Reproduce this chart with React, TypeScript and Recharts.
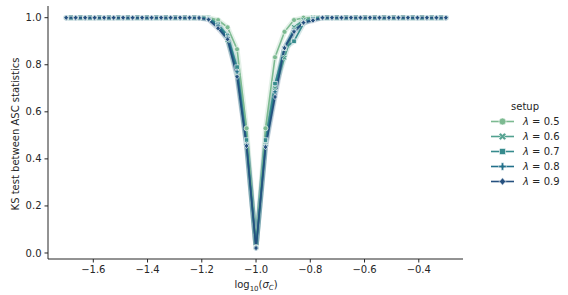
import React from "react";
import { LineChart, Line, XAxis, YAxis, Label } from "recharts";

const xValues = [
  -1.7, -1.665, -1.63, -1.595, -1.56, -1.525, -1.49, -1.455, -1.42, -1.385,
  -1.35, -1.315, -1.28, -1.245, -1.21, -1.175, -1.14, -1.105, -1.07, -1.035,
  -1.0, -0.965, -0.93, -0.895, -0.86, -0.825, -0.79, -0.755, -0.72, -0.685,
  -0.65, -0.615, -0.58, -0.545, -0.51, -0.475, -0.44, -0.405, -0.37, -0.335, -0.3,
];

const lambda05 = [
  1, 1, 1, 1, 1, 1, 1, 1, 1, 1,
  1, 1, 1, 1, 1, 1.0, 0.99, 0.959, 0.866, 0.53,
  0.025, 0.53, 0.832, 0.94, 0.99, 1.0, 1, 1, 1, 1,
  1, 1, 1, 1, 1, 1, 1, 1, 1, 1, 1,
];
const lambda06 = [
  1, 1, 1, 1, 1, 1, 1, 1, 1, 1,
  1, 1, 1, 1, 1, 1.0, 0.975, 0.905, 0.76, 0.47,
  0.022, 0.47, 0.7, 0.83, 0.96, 0.99, 1.0, 1, 1, 1,
  1, 1, 1, 1, 1, 1, 1, 1, 1, 1, 1,
];
const lambda07 = [
  1, 1, 1, 1, 1, 1, 1, 1, 1, 1,
  1, 1, 1, 1, 1, 0.996, 0.972, 0.925, 0.79, 0.48,
  0.022, 0.48, 0.72, 0.87, 0.9, 0.975, 0.995, 1, 1, 1,
  1, 1, 1, 1, 1, 1, 1, 1, 1, 1, 1,
];
const lambda08 = [
  1, 1, 1, 1, 1, 1, 1, 1, 1, 1,
  1, 1, 1, 1, 1, 0.994, 0.965, 0.915, 0.77, 0.46,
  0.021, 0.455, 0.685, 0.875, 0.945, 0.98, 0.993, 1, 1, 1,
  1, 1, 1, 1, 1, 1, 1, 1, 1, 1, 1,
];
const lambda09 = [
  1, 1, 1, 1, 1, 1, 1, 1, 1, 1,
  1, 1, 1, 1, 0.999, 0.992, 0.955, 0.908, 0.749, 0.455,
  0.021, 0.45, 0.663, 0.871, 0.94, 0.979, 0.988, 1.0, 1, 1,
  1, 1, 1, 1, 1, 1, 1, 1, 1, 1, 1,
];

const seriesNames = ["λ = 0.5", "λ = 0.6", "λ = 0.7", "λ = 0.8", "λ = 0.9"];
const seriesValues = [lambda05, lambda06, lambda07, lambda08, lambda09];
const seriesLambda = ["0.5", "0.6", "0.7", "0.8", "0.9"];
const seriesColors = ["#7cba91", "#52a18f", "#368b8d", "#22708a", "#25507f"];
const seriesShapes = ["circle", "x", "square", "plus", "diamond"];

const xTicks = [-1.6, -1.4, -1.2, -1.0, -0.8, -0.6, -0.4];
const yTicks = [0, 0.2, 0.4, 0.6, 0.8, 1.0];

const data = xValues.map((x, i) => {
  const row: Record<string, number> = { x };
  seriesValues.forEach((s, k) => {
    row["s" + k] = s[i];
  });
  return row;
});

const INK = "#262626";
const FONT = "DejaVu Sans, sans-serif";

function Marker({ shape, cx, cy, color, s = 1 }: { shape: string; cx: number; cy: number; color: string; s?: number }) {
  const sw = 0.6;
  if (shape === "circle") return <circle cx={cx} cy={cy} r={2.5 * s} fill={color} stroke="#fff" strokeWidth={sw} />;
  if (shape === "square") {
    const h = 2.2 * s;
    return <rect x={cx - h} y={cy - h} width={2 * h} height={2 * h} fill={color} stroke="#fff" strokeWidth={sw} />;
  }
  if (shape === "diamond") {
    const h = 2.7 * s;
    return (
      <polygon
        points={`${cx},${cy - h} ${cx + h * 0.85},${cy} ${cx},${cy + h} ${cx - h * 0.85},${cy}`}
        fill={color}
        stroke="#fff"
        strokeWidth={sw}
      />
    );
  }
  if (shape === "plus") {
    const a = 0.9 * s, b = 2.7 * s;
    const pts = [
      [-a, -b], [a, -b], [a, -a], [b, -a], [b, a], [a, a], [a, b], [-a, b], [-a, a], [-b, a], [-b, -a], [-a, -a],
    ].map(([px, py]) => `${cx + px},${cy + py}`).join(" ");
    return <polygon points={pts} fill={color} stroke="#fff" strokeWidth={sw} />;
  }
  // filled X
  const a = 0.9 * s, b = 2.8 * s;
  const base = [
    [-a, -b], [a, -b], [a, -a], [b, -a], [b, a], [a, a], [a, b], [-a, b], [-a, a], [-b, a], [-b, -a], [-a, -a],
  ];
  const c = Math.SQRT1_2;
  const pts = base
    .map(([px, py]) => [px * c - py * c, px * c + py * c])
    .map(([px, py]) => `${cx + px},${cy + py}`)
    .join(" ");
  return <polygon points={pts} fill={color} stroke="#fff" strokeWidth={sw} />;
}

const makeDot = (shape: string, color: string) => (props: any) => {
  const { cx, cy, index } = props;
  if (cx == null || cy == null) return <g key={`d${index}`} />;
  return (
    <g key={`d${shape}${index}`}>
      <Marker shape={shape} cx={cx} cy={cy} color={color} />
    </g>
  );
};

const fmt = (v: number) => v.toFixed(1).replace("-", "\u2212");

function Legend() {
  return (
    <div
      style={{
        position: "absolute",
        left: 486,
        top: 99,
        fontFamily: FONT,
        fontSize: 10,
        color: INK,
        lineHeight: "15px",
      }}
    >
      <div style={{ textAlign: "center", width: 78, marginLeft: 0 }}>setup</div>
      {seriesNames.map((n, k) => (
        <div key={n} style={{ display: "flex", alignItems: "center", height: 15 }}>
          <svg width={34} height={15} style={{ display: "block" }}>
            <line x1={5} x2={28} y1={7.5} y2={7.5} stroke={seriesColors[k]} strokeWidth={1.6} />
            <Marker shape={seriesShapes[k]} cx={16.5} cy={7.5} color={seriesColors[k]} s={1.4} />
          </svg>
          <span style={{ marginLeft: 3 }}>
            <i>λ</i> = {seriesLambda[k]}
          </span>
        </div>
      ))}
    </div>
  );
}

export default function App() {
  return (
    <div style={{ position: "relative", width: 568, height: 295, background: "#fff" }}>
      <style>{`body{margin:0}`}</style>
      <LineChart width={568} height={295} data={data} margin={{ top: 6, right: 105, bottom: 0, left: 0 }}>
        <XAxis
          dataKey="x"
          type="number"
          domain={[-1.767, -0.237]}
          ticks={xTicks}
          tickFormatter={fmt}
          allowDataOverflow
          height={36}
          tickSize={3.5}
          tickMargin={3}
          axisLine={{ stroke: INK, strokeWidth: 1 }}
          tickLine={{ stroke: INK, strokeWidth: 1 }}
          tick={{ fill: INK, fontSize: 10, fontFamily: FONT }}
        >
          <Label
            content={() => (
              <text x={256} y={288} textAnchor="middle" fill={INK} fontSize={10} fontFamily={FONT}>
                <tspan>log</tspan>
                <tspan fontSize={7} dy={2.5}>10</tspan>
                <tspan dy={-2.5}>(</tspan>
                <tspan fontStyle="italic">σ</tspan>
                <tspan fontSize={7} fontStyle="italic" dy={2}>C</tspan>
                <tspan dy={-2}>)</tspan>
              </text>
            )}
          />
        </XAxis>
        <YAxis
          type="number"
          domain={[-0.0255, 1.0497]}
          ticks={yTicks}
          tickFormatter={fmt}
          allowDataOverflow
          width={48}
          tickSize={3.5}
          tickMargin={3}
          axisLine={{ stroke: INK, strokeWidth: 1 }}
          tickLine={{ stroke: INK, strokeWidth: 1 }}
          tick={{ fill: INK, fontSize: 10, fontFamily: FONT }}
        >
          <Label
            content={() => (
              <text
                x={15}
                y={134}
                transform="rotate(-90 15 134)"
                textAnchor="middle"
                dominantBaseline="central"
                fill={INK}
                fontSize={10}
                fontFamily={FONT}
              >
                KS test between ASC statistics
              </text>
            )}
          />
        </YAxis>
        {seriesNames.map((n, k) => (
          <Line
            key={"halo" + k}
            dataKey={"s" + k}
            stroke={seriesColors[k]}
            strokeOpacity={0.2}
            strokeWidth={5}
            dot={false}
            activeDot={false}
            isAnimationActive={false}
            legendType="none"
          />
        ))}
        {seriesNames.map((n, k) => (
          <Line
            key={"line" + k}
            name={n}
            dataKey={"s" + k}
            stroke={seriesColors[k]}
            strokeWidth={1.6}
            dot={makeDot(seriesShapes[k], seriesColors[k])}
            activeDot={false}
            isAnimationActive={false}
          />
        ))}
      </LineChart>
      <Legend />
    </div>
  );
}
